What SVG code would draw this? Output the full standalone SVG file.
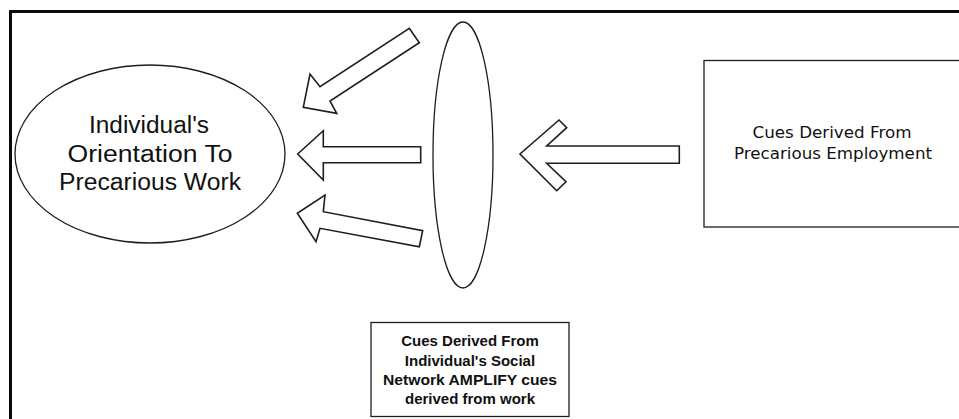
<svg xmlns="http://www.w3.org/2000/svg" width="959" height="419" viewBox="0 0 959 419">
  <style>
    .shape { fill: #ffffff; stroke: #1e1e1e; stroke-width: 1.3; stroke-linejoin: miter; }
    .arrow { fill: #ffffff; stroke: #1e1e1e; stroke-width: 1.6; stroke-linejoin: miter; }
    .frame { fill: none; stroke: #0a0a0a; stroke-width: 3; }
    .big { font-family: "Liberation Sans", Arial, sans-serif; font-size: 23px; fill: #111; text-anchor: middle; }
    .mid { font-family: "DejaVu Sans", Verdana, sans-serif; font-size: 16px; fill: #111; text-anchor: middle; }
    .small { font-family: "Liberation Sans", Arial, sans-serif; font-size: 15px; font-weight: bold; fill: #111; text-anchor: middle; }
  </style>
  <rect width="959" height="419" fill="#ffffff"/>

  <!-- outer frame: top and left edges -->
  <path class="frame" d="M10.5 419 V11.5 H959"/>

  <g id="orientation">
    <ellipse class="shape" cx="150" cy="154" rx="135" ry="89"/>
    <text class="big" x="149" y="133" textLength="120" lengthAdjust="spacingAndGlyphs">Individual's</text>
    <text class="big" x="150" y="162" textLength="165" lengthAdjust="spacingAndGlyphs">Orientation To</text>
    <text class="big" x="150" y="190" textLength="182" lengthAdjust="spacingAndGlyphs">Precarious Work</text>
  </g>

  <g id="network-lens">
    <ellipse class="shape" cx="463" cy="155" rx="30" ry="133"/>
  </g>

  <g id="employment-cues">
    <rect class="shape" x="704" y="60.5" width="260" height="166.5"/>
    <text class="mid" x="832" y="138" textLength="159" lengthAdjust="spacingAndGlyphs">Cues Derived From</text>
    <text class="mid" x="833" y="159" textLength="198" lengthAdjust="spacingAndGlyphs">Precarious Employment</text>
  </g>

  <g id="social-network-cues">
    <rect class="shape" x="371" y="322.5" width="198" height="94"/>
    <text class="small" x="470" y="346">Cues Derived From</text>
    <text class="small" x="470" y="365.5">Individual's Social</text>
    <text class="small" x="470" y="385" textLength="174" lengthAdjust="spacingAndGlyphs">Network AMPLIFY cues</text>
    <text class="small" x="470" y="404">derived from work</text>
  </g>

  <g id="connectors">
    <!-- lens to orientation: upper diagonal -->
    <path class="arrow" d="M409.3 28.3 L419.3 42.7 L330 101 L336.7 113.3 L303.3 107.3 L310 74 L320 86.7 Z"/>
    <!-- lens to orientation: middle -->
    <path class="arrow" d="M420.7 146.7 L420.7 162.7 L323.3 162.7 L323.3 180 L297.7 154 L323.3 130.7 L323.3 146.7 Z"/>
    <!-- lens to orientation: lower diagonal -->
    <path class="arrow" d="M422.7 230.7 L419.3 246.7 L320 228.3 L316 241.7 L297.3 213.3 L325 195 L323.3 211.7 Z"/>
    <!-- employment cues to lens -->
    <path class="arrow" d="M679.3 146 L546.7 146 L566.7 127.7 L559 120 L520 154 L556.7 190.7 L566 181.7 L546.7 163.3 L679.3 163.3 Z"/>
  </g>
</svg>
